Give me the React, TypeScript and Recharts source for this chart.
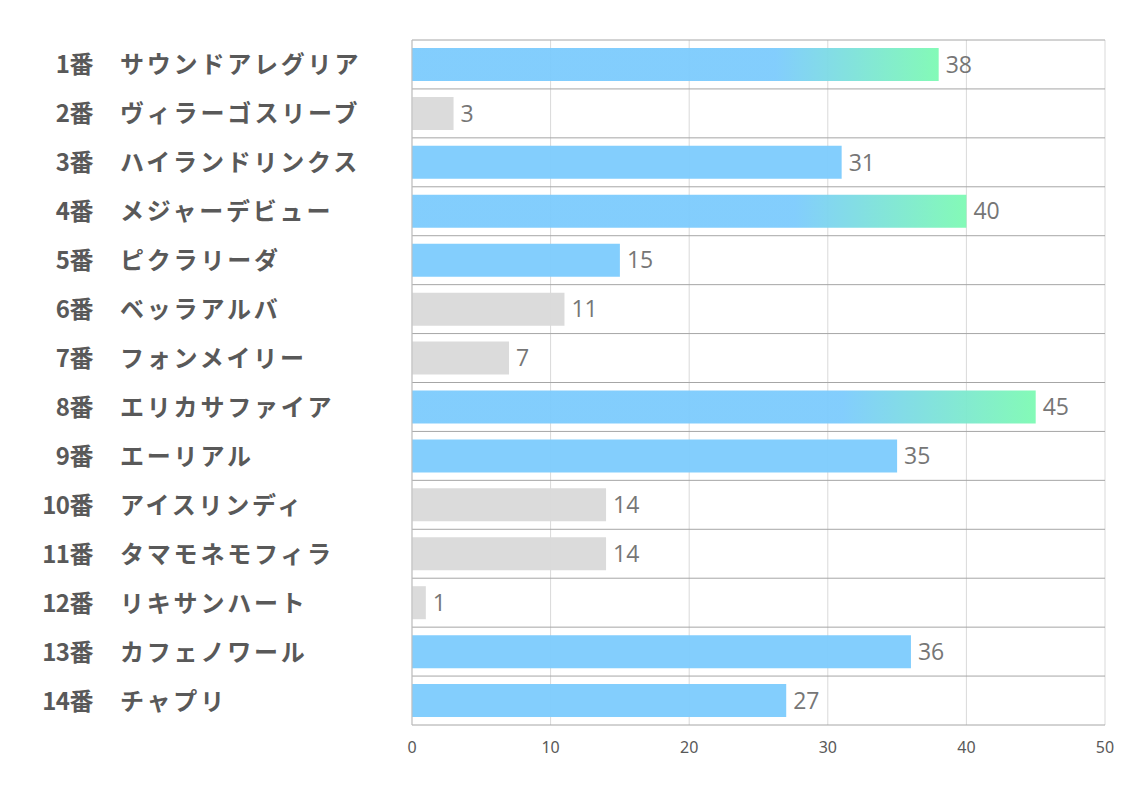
import { BarChart, Bar, XAxis, YAxis, CartesianGrid, Cell, LabelList } from "recharts";

const gateNumbers = ["1番", "2番", "3番", "4番", "5番", "6番", "7番", "8番", "9番", "10番", "11番", "12番", "13番", "14番"];
const horseNames = [
  "サウンドアレグリア",
  "ヴィラーゴスリーブ",
  "ハイランドリンクス",
  "メジャーデビュー",
  "ピクラリーダ",
  "ベッラアルバ",
  "フォンメイリー",
  "エリカサファイア",
  "エーリアル",
  "アイスリンディ",
  "タマモネモフィラ",
  "リキサンハート",
  "カフェノワール",
  "チャプリ",
];
const scores = [38, 3, 31, 40, 15, 11, 7, 45, 35, 14, 14, 1, 36, 27];
// b = blue, g = grey, t = top (blue to green)
const barKinds = ["t", "g", "b", "t", "b", "g", "g", "t", "b", "g", "g", "g", "b", "b"];
const xTicks = [0, 10, 20, 30, 40, 50];

const data = gateNumbers.map((g, i) => ({
  key: g,
  name: horseNames[i],
  score: scores[i],
  kind: barKinds[i],
}));

const fillFor = (kind: string) =>
  kind === "t" ? "url(#topGrad)" : kind === "g" ? "#d9d9d9" : "#7ccbfd";

function NameTick(props: any) {
  const { x, y, payload } = props;
  const idx = gateNumbers.indexOf(payload.value);
  return (
    <g>
      <text
        x={x - 311}
        y={y}
        dy={9}
        textAnchor="end"
        fontSize={24}
        fontWeight={700}
        fill="#595959"
        letterSpacing={-0.5}
        fontFamily="'Noto Sans CJK JP', sans-serif"
      >
        {payload.value}
      </text>
      <text
        x={x - 284}
        y={y}
        dy={9}
        textAnchor="start"
        fontSize={24}
        fontWeight={700}
        fill="#595959"
        letterSpacing={2.8}
        fontFamily="'Noto Sans CJK JP', sans-serif"
      >
        {horseNames[idx]}
      </text>
    </g>
  );
}

function ValueTick(props: any) {
  const { x, y, payload } = props;
  return (
    <text
      x={x}
      y={y}
      dy={10}
      textAnchor="middle"
      fontSize={16}
      fill="#595959"
      fontFamily="'Liberation Sans Narrow', 'Noto Sans', sans-serif"
    >
      {payload.value}
    </text>
  );
}

export default function App() {
  return (
    <div style={{ position: "absolute", left: 0, top: 0, background: "#fff" }}>
      <BarChart
        width={1134}
        height={793}
        data={data}
        layout="vertical"
        margin={{ top: 40, right: 29, bottom: 0, left: 0 }}
        barCategoryGap={0}
      >
        <defs>
          <linearGradient id="topGrad" x1="0" y1="0" x2="1" y2="0">
            <stop offset="0%" stopColor="#7ccbfd" />
            <stop offset="69%" stopColor="#7ccbfd" />
            <stop offset="100%" stopColor="#7dfab3" />
          </linearGradient>
        </defs>
        <CartesianGrid stroke="#d9d9d9" horizontal={false} />
        <CartesianGrid
          stroke="#a6a6a6"
          vertical={false}
          horizontalCoordinatesGenerator={({ offset }: any) =>
            gateNumbers.map((_, i) => offset.top + (i * offset.height) / gateNumbers.length)
          }
        />
        <XAxis
          type="number"
          domain={[0, 50]}
          ticks={xTicks}
          height={68}
          tickLine={false}
          tickMargin={12}
          axisLine={{ stroke: "#a6a6a6" }}
          tick={<ValueTick />}
        />
        <YAxis
          type="category"
          dataKey="key"
          width={412}
          tickLine={false}
          axisLine={{ stroke: "#bfbfbf" }}
          tick={<NameTick />}
        />
        <Bar dataKey="score" barSize={33} isAnimationActive={false}>
          {data.map((d) => (
            <Cell key={d.key} fill={fillFor(d.kind)} fillOpacity={0.95} />
          ))}
          <LabelList
            dataKey="score"
            position="right"
            offset={7}
            fontSize={23}
            fill="#767676"
            fontFamily="'Open Sans', 'Noto Sans', sans-serif"
          />
        </Bar>
      </BarChart>
    </div>
  );
}
